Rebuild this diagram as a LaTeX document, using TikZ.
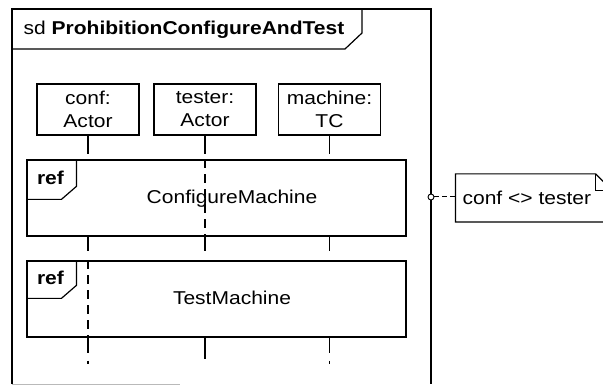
\documentclass[tikz,border=0pt]{standalone}
\usepackage{fontspec}
\setmainfont{Liberation Sans}[FakeStretch=1.13]
\usetikzlibrary{calc}
\begin{document}
\begin{tikzpicture}[x=1pt,y=-1pt, line width=1.2pt,
  every node/.style={font=\fontsize{18.6}{23}\selectfont, inner sep=0pt},
  head/.style={draw, minimum width=102pt, minimum height=51pt, align=center},
  refbox/.style={draw, minimum width=379pt, minimum height=76pt},
  lifedash/.style={dash pattern=on 9pt off 6pt},
  notelink/.style={dash pattern=on 5pt off 3pt}]
\useasboundingbox (0,0) rectangle (603,387);
\clip (0,0) rectangle (603,387);
% frame
\draw (12,384) -- (12,9) -- (431,9) -- (431,384);
\draw[gray!55, line width=0.8pt] (12,384) -- (180,384);
\draw (12,49) -- (345,49) -- (362,33) -- (362,9);
\node[anchor=base west] (title) at (23,35) {sd \textbf{ProhibitionConfigureAndTest}};
% lifeline heads
\node[head] (conf) at (88,109.5) {conf:\\Actor};
\node[head] (tester) at (205,109.5) {tester:\\Actor};
\node[head] (machine) at (329.5,109.5) {machine:\\TC};
% interaction uses
\node[refbox] (cm) at (216.5,198) {};
\node[refbox] (tm) at (216.5,299) {};
\draw ($(cm.north west)+(0,40)$) -- ++(35,0) -- ++(15,-13) -- ++(0,-27);
\draw ($(tm.north west)+(0,38)$) -- ++(35,0) -- ++(15,-13) -- ++(0,-25);
\node[anchor=base west] (cmref) at ($(cm.north west)+(10,25)$) {\textbf{ref}};
\node[anchor=base west] (tmref) at ($(tm.north west)+(10,24)$) {\textbf{ref}};
\node[anchor=base] (cmtext) at (232,204) {ConfigureMachine};
\node[anchor=base] (tmtext) at (232,305) {TestMachine};
% lifelines
\foreach \L in {conf,tester,machine}{
  \draw (\L.south) -- ($(\L.south |- cm.north)+(0,-5)$);
  \draw (\L.south |- cm.south) -- ($(\L.south |- tm.north)+(0,-9)$);
}
\draw[lifedash] (tester.south |- cm.north) -- (tester.south |- cm.south);
\draw[lifedash] (conf.south |- tm.north) -- (conf.south |- tm.south);
\draw (conf.south |- tm.south) -- ++(0,15);
\draw ($(conf.south |- tm.south)+(0,23)$) -- ++(0,3);
\draw (tester.south |- tm.south) -- ++(0,21);
\draw (machine.south |- tm.south) -- ++(0,15);
\draw ($(machine.south |- tm.south)+(0,23)$) -- ++(0,3);
% comment
\node[minimum width=156pt, minimum height=47pt] (note) at (534,198) {};
\draw (note.south west) -- (note.north west) -- ($(note.north east)+(-17,0)$)
  -- ($(note.north east)+(0,17)$) -- (note.south east) -- cycle;
\draw[line width=0.9pt] ($(note.north east)+(-17,0)$) |- ($(note.north east)+(0,17)$);
\node[circle, draw, fill=white, minimum size=6pt, line width=0.9pt] (port) at (431,197) {};
\draw[notelink, line width=1pt] (port) -- (port -| note.west);
\node[anchor=base west] (notetext) at (462,205) {conf <> tester};
\end{tikzpicture}
\end{document}
